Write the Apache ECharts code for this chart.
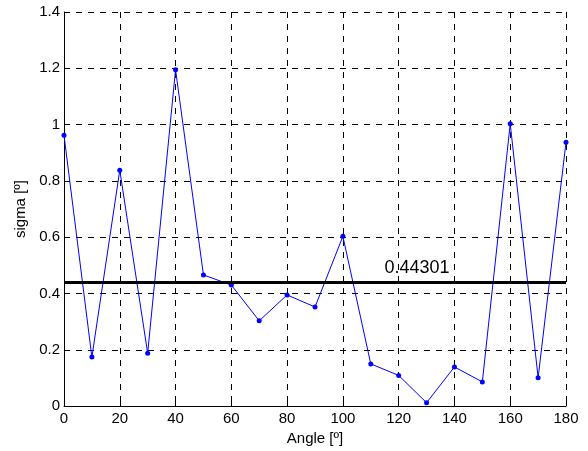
<!DOCTYPE html>
<html>
<head>
<meta charset="utf-8">
<script src="https://cdn.jsdelivr.net/npm/echarts@6/dist/echarts.min.js"></script>
<style>html,body{margin:0;padding:0;background:#fff;}#c{width:588px;height:451px;}</style>
</head>
<body>
<div id="c"></div>
<script>
var angles = [0,10,20,30,40,50,60,70,80,90,100,110,120,130,140,150,160,170,180];
var sigma = [0.962,0.174,0.838,0.188,1.195,0.466,0.430,0.303,0.395,0.352,0.603,0.150,0.109,0.012,0.139,0.086,1.003,0.101,0.937];
var meanValue = 0.44301;
var meanLabel = '0.44301';
var xTicks = [0,20,40,60,80,100,120,140,160,180];
var yTicks = [0,0.2,0.4,0.6,0.8,1,1.2,1.4];

var chart = echarts.init(document.getElementById('c'), null, {renderer:'canvas'});
var font = 'Liberation Sans, Arial, sans-serif';
var gridDash = {color:'#000', type:[6,6], width:1};
chart.setOption({
  animation:false,
  backgroundColor:'#fff',
  grid:{left:64, right:22, top:12, bottom:44},
  xAxis:{
    type:'value', min:0, max:180, interval:20,
    name:'Angle [º]', nameLocation:'middle', nameGap:20,
    nameTextStyle:{fontFamily:font, fontSize:15, color:'#000'},
    axisLine:{lineStyle:{color:'#000', width:1}},
    axisTick:{inside:true, length:5, lineStyle:{color:'#000'}},
    axisLabel:{fontFamily:font, fontSize:15, color:'#000', margin:5, formatter:function(v){return xTicks.indexOf(v)>=0? String(v):'';}},
    splitLine:{show:true, lineStyle:gridDash}
  },
  yAxis:{
    type:'value', min:0, max:1.4, interval:0.2,
    name:'sigma [º]', nameLocation:'middle', nameGap:36, nameRotate:90,
    nameTextStyle:{fontFamily:font, fontSize:15, color:'#000'},
    axisLine:{show:true, lineStyle:{color:'#000', width:1}},
    axisTick:{show:true, inside:true, length:5, lineStyle:{color:'#000'}},
    axisLabel:{fontFamily:font, fontSize:15, color:'#000', margin:4, formatter:function(v){
      var r = Math.round(v*10)/10; return String(r);}},
    splitLine:{show:true, lineStyle:gridDash}
  },
  series:[{
    type:'line',
    data:angles.map(function(a,i){return [a,sigma[i]];}),
    lineStyle:{color:'#0000ff', width:1},
    itemStyle:{color:'#0000ff'},
    symbol:'circle', symbolSize:5, showSymbol:true,
    markLine:{
      silent:true, symbol:['none','none'],
      lineStyle:{color:'#000', width:3, type:'solid'},
      label:{show:true, position:'insideMiddleTop', formatter:meanLabel, fontFamily:font, fontSize:18, color:'#000', offset:[102,0]},
      data:[{yAxis:meanValue}]
    }
  }]
});
</script>
</body>
</html>
